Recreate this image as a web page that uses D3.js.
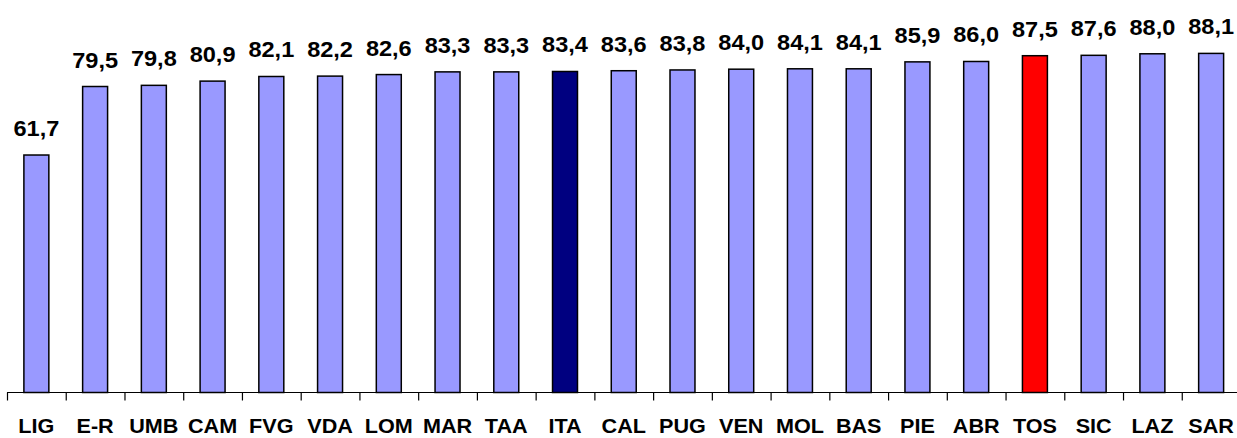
<!DOCTYPE html>
<html>
<head>
<meta charset="utf-8">
<script src="https://cdn.jsdelivr.net/npm/d3@7"></script>
<style>
html,body{margin:0;padding:0;background:#fff;}
svg{display:block;}
</style>
</head>
<body>
<svg id="chart" width="1237" height="438"></svg>
<script>
const categories = ["LIG","E-R","UMB","CAM","FVG","VDA","LOM","MAR","TAA","ITA","CAL","PUG","VEN","MOL","BAS","PIE","ABR","TOS","SIC","LAZ","SAR"];
const values = [61.7,79.5,79.8,80.9,82.1,82.2,82.6,83.3,83.3,83.4,83.6,83.8,84.0,84.1,84.1,85.9,86.0,87.5,87.6,88.0,88.1];
const highlight = {"ITA":"#000080","TOS":"#FF0000"};
const baseColor = "#9999FF";

const svg = d3.select("#chart");
const x = d3.scaleBand().domain(categories).range([7, 1240.5]).paddingInner(0.575).paddingOuter(0.2875);
const y = d3.scaleLinear().domain([0, 100]).range([392.5, 7.6]);

// bars
svg.append("g").selectAll("rect").data(categories).join("rect")
  .attr("x", d => x(d))
  .attr("y", (d,i) => y(values[i]))
  .attr("width", x.bandwidth())
  .attr("height", (d,i) => y(0) - y(values[i]))
  .attr("fill", d => highlight[d] || baseColor)
  .attr("stroke", "#000")
  .attr("stroke-width", 1.5);

// value labels
const fmt = d3.format(".1f");
svg.append("g").selectAll("text").data(categories).join("text")
  .attr("transform", (d,i) => `translate(${x(d) + x.bandwidth()/2},${y(values[i]) - 19}) scale(1.07,1)`)
  .attr("text-anchor", "middle")
  .attr("font-family", "Liberation Sans, Arial, sans-serif")
  .attr("font-weight", "bold")
  .attr("font-size", "22px")
  .attr("fill", "#000")
  .text((d,i) => fmt(values[i]).replace(".", ","));

// axis
const step = x.step();
const axisG = svg.append("g");
axisG.append("line")
  .attr("x1", 7).attr("x2", 1240.5)
  .attr("y1", y(0)).attr("y2", y(0))
  .attr("stroke", "#000").attr("stroke-width", 1.2);
axisG.selectAll("line.tick").data(d3.range(categories.length + 1)).join("line")
  .attr("class", "tick")
  .attr("x1", i => 7.5 + i * step).attr("x2", i => 7.5 + i * step)
  .attr("y1", y(0)).attr("y2", y(0) + 8)
  .attr("stroke", "#000").attr("stroke-width", 1.2);

// category labels
axisG.selectAll("text").data(categories).join("text")
  .attr("transform", d => `translate(${x(d) + x.bandwidth()/2},433) scale(1.03,1)`)
  .attr("text-anchor", "middle")
  .attr("font-family", "Liberation Sans, Arial, sans-serif")
  .attr("font-weight", "bold")
  .attr("font-size", "21px")
  .attr("fill", "#000")
  .text(d => d);
</script>
</body>
</html>
